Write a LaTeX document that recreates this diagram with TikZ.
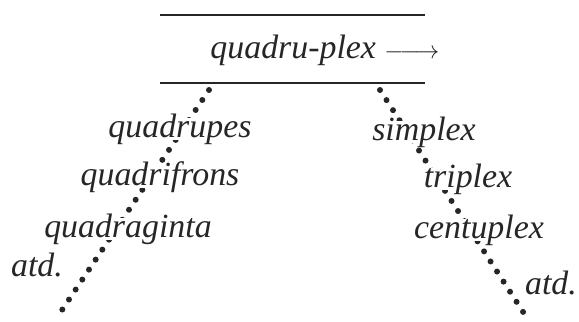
\documentclass[tikz,border=0pt]{standalone}
\usepackage{fontspec}
\setmainfont{Liberation Serif}
\begin{document}
\begin{tikzpicture}[
    x=1bp, y=-1bp,
    word/.style={font=\fontsize{34}{40}\selectfont\itshape, inner xsep=0pt, inner ysep=-4bp, fill=white, anchor=base, text=black!85},
    rule/.style={line width=2.5bp, draw=black!85},
    dots/.style={line width=6bp, line cap=round, dash pattern=on 0pt off 12bp, draw=black!85},
  ]
    \useasboundingbox (0,0) rectangle (579,321);
    % Rules round the head word
    \coordinate (tl) at (160,15);
    \coordinate (tr) at (425,15);
    \coordinate (bl) at (160,83);
    \coordinate (br) at (425,83);
    \draw[rule] (tl) -- (tr);
    \draw[rule] (bl) -- (br);
    \node[word] (head) at (325,58) {quadru-plex $\relbar\joinrel\longrightarrow$};
    % Dotted branches
    \coordinate (ltop) at (209,90);
    \coordinate (lend) at (60,313);
    \coordinate (rtop) at (380,90);
    \coordinate (rend) at (527,318);
    \draw[dots] (ltop) -- (lend);
    \draw[dots] (rtop) -- (rend);
    % Left branch words
    \node[word] (quadrupes) at (180,137) {quadrupes};
    \node[word] (quadrifrons) at (160,185) {quadrifrons};
    \node[word] (quadraginta) at (128,237) {quadraginta};
    \node[word] (atdl) at (37,276) {atd.};
    % Right branch words
    \node[word] (simplex) at (424,140) {simplex};
    \node[word] (triplex) at (468,187) {triplex};
    \node[word] (centuplex) at (479,238) {centuplex};
    \node[word] (atdr) at (551,294) {atd.};
\end{tikzpicture}
\end{document}
